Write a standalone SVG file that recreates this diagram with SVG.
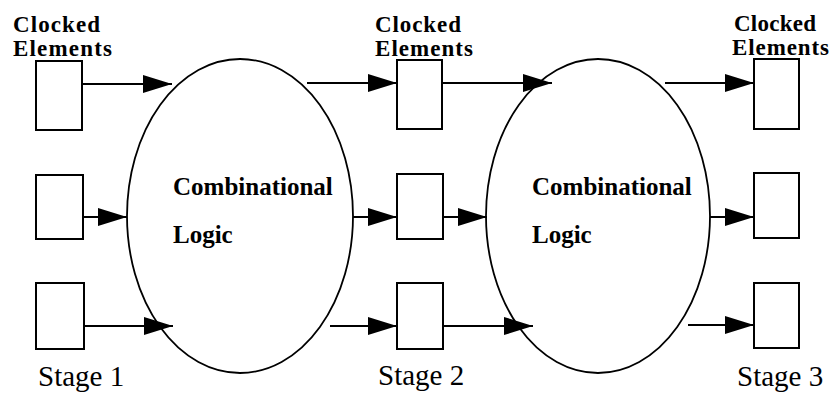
<svg xmlns="http://www.w3.org/2000/svg" width="832" height="398" viewBox="0 0 832 398">
<style>
.box{fill:#fff;stroke:#000;stroke-width:2}
.ell{fill:#fff;stroke:#000;stroke-width:1.8}
.ln{stroke:#000;stroke-width:2;fill:none;marker-end:url(#ah)}
.b{font-family:'Liberation Serif',serif;font-weight:bold;font-size:23px;fill:#000}
.c{font-family:'Liberation Serif',serif;font-weight:bold;font-size:25px;fill:#000}
.r{font-family:'Liberation Serif',serif;font-size:29px;fill:#000}
</style>
<defs>
<marker id="ah" markerUnits="userSpaceOnUse" markerWidth="29" markerHeight="18" refX="29" refY="9" orient="auto" overflow="visible">
<path d="M0,0 L29,9 L0,18 Z" fill="#000"/>
</marker>
</defs>
<rect width="832" height="398" fill="#fff"/>
<g id="logic1"><ellipse class="ell" cx="240" cy="216" rx="113" ry="157"/>
<text class="c" x="173" y="195">Combinational</text>
<text class="c" x="173" y="243">Logic</text></g>
<g id="logic2"><ellipse class="ell" cx="598" cy="216" rx="112" ry="157"/>
<text class="c" x="532" y="195">Combinational</text>
<text class="c" x="532" y="243">Logic</text></g>
<g id="stage1">
<text class="b" x="13" y="32" textLength="87">Clocked</text>
<text class="b" x="13" y="56" textLength="99">Elements</text>
<rect class="box" x="36" y="61" width="46" height="69"/>
<rect class="box" x="36" y="175" width="47" height="64"/>
<rect class="box" x="36" y="283" width="48" height="66"/>
<text class="r" x="38" y="386">Stage 1</text></g>
<g id="stage2">
<text class="b" x="375" y="32" textLength="86">Clocked</text>
<text class="b" x="375" y="56" textLength="98">Elements</text>
<rect class="box" x="397" y="60" width="45" height="69"/>
<rect class="box" x="397" y="174" width="46" height="65"/>
<rect class="box" x="397" y="283" width="46" height="66"/>
<text class="r" x="378" y="385">Stage 2</text></g>
<g id="stage3">
<text class="b" x="734" y="31" textLength="82">Clocked</text>
<text class="b" x="732" y="55" textLength="97">Elements</text>
<rect class="box" x="754" y="59" width="45" height="70"/>
<rect class="box" x="754" y="173" width="45" height="65"/>
<rect class="box" x="754" y="283" width="45" height="65"/>
<text class="r" x="737" y="386">Stage 3</text></g>
<g id="connectors">
<line class="ln" x1="82" y1="84" x2="172" y2="84"/>
<line class="ln" x1="307" y1="83" x2="397" y2="83"/>
<line class="ln" x1="442" y1="83" x2="552" y2="83"/>
<line class="ln" x1="665" y1="83" x2="754" y2="83"/>
<line class="ln" x1="83" y1="217" x2="127" y2="217"/>
<line class="ln" x1="353" y1="217" x2="397" y2="217"/>
<line class="ln" x1="443" y1="217" x2="487" y2="217"/>
<line class="ln" x1="710" y1="217" x2="754" y2="217"/>
<line class="ln" x1="84" y1="326" x2="173" y2="326"/>
<line class="ln" x1="330" y1="326" x2="397" y2="326"/>
<line class="ln" x1="443" y1="326" x2="533" y2="326"/>
<line class="ln" x1="688" y1="325" x2="754" y2="325"/>
</g>
</svg>
